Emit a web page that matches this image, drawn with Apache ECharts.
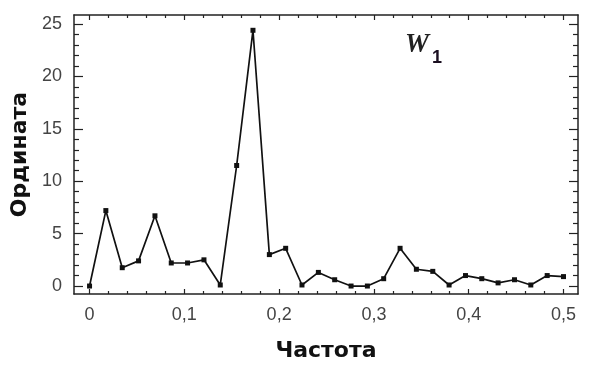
<!DOCTYPE html>
<html>
<head>
<meta charset="utf-8">
<script src="https://cdn.jsdelivr.net/npm/echarts@6/dist/echarts.min.js"></script>
<style>
html,body{margin:0;padding:0;background:#fff;}
#chart{width:594px;height:369px;}
</style>
</head>
<body>
<div id="chart"></div>
<script>
// Frequencies (k/58) and ordinate values
var frequencies = [0, 0.0172, 0.0345, 0.0517, 0.0690, 0.0862, 0.1034, 0.1207, 0.1379, 0.1552,
  0.1724, 0.1897, 0.2069, 0.2241, 0.2414, 0.2586, 0.2759, 0.2931, 0.3103, 0.3276,
  0.3448, 0.3621, 0.3793, 0.3966, 0.4138, 0.4310, 0.4483, 0.4655, 0.4828, 0.5];
var ordinate = [0, 7.2, 1.75, 2.4, 6.7, 2.2, 2.2, 2.5, 0.1, 11.5,
  24.4, 3.0, 3.6, 0.1, 1.3, 0.6, 0, 0, 0.7, 3.6,
  1.6, 1.4, 0.1, 1.0, 0.7, 0.3, 0.6, 0.1, 1.0, 0.9];
var xMajorTicks = [0, 0.1, 0.2, 0.3, 0.4, 0.5];
var xMinorTicks = [0.02, 0.04, 0.06, 0.08, 0.12, 0.14, 0.16, 0.18, 0.22, 0.24, 0.26, 0.28,
  0.32, 0.34, 0.36, 0.38, 0.42, 0.44, 0.46, 0.48];
var yMajorTicks = [0, 5, 10, 15, 20, 25];
var yMinorTicks = [1, 2, 3, 4, 6, 7, 8, 9, 11, 12, 13, 14, 16, 17, 18, 19, 21, 22, 23, 24];
var xTitle = 'Частота';
var yTitle = 'Ордината';

var X_MIN = -0.0164, X_MAX = 0.5153, Y_MIN = -0.76, Y_MAX = 25.86;
var lineCol = '#222';
var labelStyle = {fontFamily: 'Liberation Sans', fontSize: 18, color: '#444'};
var titleStyle = {fontFamily: 'DejaVu Sans', fontWeight: 'bold', fontSize: 22, color: '#111'};

function xAx(pos, vals, len, withLabel, withLine) {
  return {
    type: 'value', position: pos, min: X_MIN, max: X_MAX,
    splitLine: {show: false},
    axisLine: {show: withLine, onZero: false, lineStyle: {color: lineCol, width: 1.5}},
    axisTick: {show: true, inside: true, length: len, customValues: vals, lineStyle: {color: lineCol, width: 1.2}},
    axisLabel: withLabel ? Object.assign({show: true, margin: 12, customValues: vals,
      formatter: function (v) { return String(v).replace('.', ','); }}, labelStyle) : {show: false}
  };
}
function yAx(pos, vals, len, withLabel, withLine) {
  return {
    type: 'value', position: pos, min: Y_MIN, max: Y_MAX,
    splitLine: {show: false},
    axisLine: {show: withLine, onZero: false, lineStyle: {color: lineCol, width: 1.5}},
    axisTick: {show: true, inside: true, length: len, customValues: vals, lineStyle: {color: lineCol, width: 1.2}},
    axisLabel: withLabel ? Object.assign({show: true, margin: 12, customValues: vals}, labelStyle) : {show: false}
  };
}

var xAxes = [
  xAx('bottom', xMajorTicks, 5, true, true),
  xAx('bottom', xMinorTicks, 3, false, false),
  xAx('top', xMajorTicks, 5, false, true),
  xAx('top', xMinorTicks, 3, false, false)
];
xAxes[0].name = xTitle;
xAxes[0].nameLocation = 'middle';
xAxes[0].nameGap = 46;
xAxes[0].nameTextStyle = titleStyle;

var yAxes = [
  yAx('left', yMajorTicks, 9, true, true),
  yAx('left', yMinorTicks, 5, false, false),
  yAx('right', yMajorTicks, 9, false, true),
  yAx('right', yMinorTicks, 5, false, false)
];
yAxes[0].name = yTitle;
yAxes[0].nameLocation = 'middle';
yAxes[0].nameGap = 43;
yAxes[0].nameRotate = 90;
yAxes[0].nameTextStyle = titleStyle;

var seriesData = frequencies.map(function (f, i) { return [f, ordinate[i]]; });

var chart = echarts.init(document.getElementById('chart'), null, {renderer: 'canvas'});
chart.setOption({
  backgroundColor: '#fff',
  animation: false,
  grid: {left: 74, top: 15, right: 16, bottom: 75, containLabel: false},
  xAxis: xAxes,
  yAxis: yAxes,
  graphic: [
    {type: 'text', left: 405, top: 32, style: {text: 'W', fontFamily: 'Liberation Serif', fontStyle: 'italic', fontWeight: 'bold', fontSize: 27, fill: '#222'}},
    {type: 'text', left: 432, top: 49, style: {text: '1', fontFamily: 'Liberation Sans', fontWeight: 'bold', fontSize: 18, fill: '#1a0f20'}}
  ],
  series: [{
    type: 'line',
    xAxisIndex: 0, yAxisIndex: 0,
    data: seriesData,
    symbol: 'rect', symbolSize: 5,
    itemStyle: {color: '#111'},
    lineStyle: {color: '#111', width: 1.7},
    silent: true
  }]
});
</script>
</body>
</html>
